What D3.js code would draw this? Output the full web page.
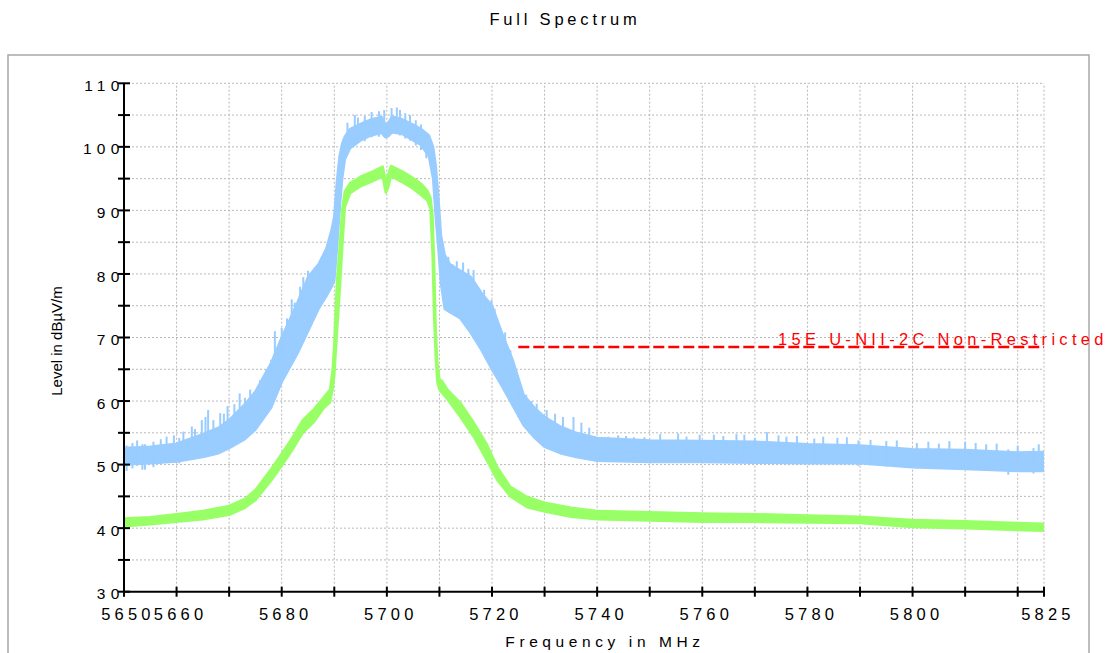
<!DOCTYPE html>
<html><head><meta charset="utf-8">
<script src="https://cdn.jsdelivr.net/npm/d3@7"></script>
<style>body{margin:0;background:#fff;} svg{display:block;font-family:"Liberation Sans",Arial,sans-serif;}</style>
</head><body><svg id="c" width="1113" height="653"></svg>
<script>
// ---------- data ----------
const chartTitle = "Full Spectrum";
const xTitle = "Frequency in MHz";
const yTitle = "Level in dBµV/m";
const limitName = "15E U-NII-2C Non-Restricted";

const xTickValues = [5650,5660,5670,5680,5690,5700,5710,5720,5730,5740,5750,5760,5770,5780,5790,5800,5810,5820,5825];
const xTickLabels = [5650,5660,5680,5700,5720,5740,5760,5780,5800,5825];
const yTickValues = [30,35,40,45,50,55,60,65,70,75,80,85,90,95,100,105,110];
const yTickLabels = [30,40,50,60,70,80,90,100,110];

// Peak trace (blue): dense noise band lower / upper envelope
const blueFreq = [5650,5655,5660,5665,5668,5670,5673,5675,5678,5680,5683,5685,5687,5688.5,5689.5,5690,5690.5,5691,5691.5,5692,5693,5695,5697,5699,5699.7,5700.3,5701,5703,5705,5706.5,5708,5708.8,5709.3,5709.8,5710.3,5711,5712,5714,5716,5718,5720,5722,5724,5726,5728,5730,5733,5736,5740,5750,5760,5770,5780,5790,5800,5810,5820,5825];
const blueLow  = [50.0,50.2,50.5,51.2,51.8,52.6,54.0,55.5,59.0,63.0,67.5,71.0,74.5,76.5,78.0,79.0,84.0,90.0,95.0,98.0,99.8,101.0,101.8,102.2,101.5,101.7,102.3,102.0,101.0,100.3,98.5,95.0,89.0,84.0,78.5,74.5,74.0,73.0,70.7,68.0,65.0,62.2,59.2,56.2,54.3,52.8,51.8,51.2,50.6,50.4,50.4,50.3,50.2,50.2,49.6,49.3,49.0,49.0];
const blueHigh = [52.6,52.8,53.3,54.8,55.8,57.0,59.5,61.5,66.0,70.0,75.5,79.5,81.5,84.0,87.0,89.0,94.5,98.5,100.5,101.6,102.8,103.6,104.3,104.7,103.5,103.8,104.8,104.3,103.5,102.8,101.8,100.0,97.0,92.0,86.0,83.0,81.5,80.5,79.5,77.0,75.0,70.5,66.3,61.0,59.0,57.5,56.0,55.0,54.2,53.8,53.7,53.6,53.2,53.0,52.4,52.3,51.9,52.0];
// Peak trace spikes (tallest excursions above the band)
const spikeFreq  = [5650.5,5651.6,5652.5,5653.5,5654,5655.6,5657,5658.1,5659.5,5660.5,5661.3,5662.9,5663.5,5664.8,5665.5,5666,5667,5668.3,5669,5669.7,5671,5672,5673,5674,5675.9,5676.5,5677.1,5678,5678.7,5679.5,5680,5681,5681.9,5682.5,5683.5,5684.1,5685,5686.3,5687,5688.2,5689.2,5689.8,
  5692.5,5693.9,5694.5,5695.8,5697.1,5698.5,5699.5,5700.9,5701.9,5702.5,5703.5,5704.4,5705.5,5706.5,5707.5,
  5711.7,5712.5,5713.3,5714.5,5715.5,5716.5,5717.7,5718.5,5719.9,5720.5,5721.4,5722.5,5723.5,5725,5726.5,5727.5,5728.5,5730.4,5732,5733.5,5735.5,5737,5738.5,
  5742.1,5744,5745.5,5747,5749,5752,5755.4,5757,5759.5,5762.2,5764,5766.5,5768,5770,5772.3,5774.5,5776,5778,5781.3,5783,5785.7,5787.5,5789.7,5792,5795,5797,5800.8,5803,5805,5807,5810,5812,5814,5816,5818.2,5820,5823,5824];
const spikeLevel = [53.0,53.4,53.8,53.2,53.2,53.6,54.0,54.4,54.6,54.2,55.2,56.0,55.6,57.0,57.5,58.6,57.0,58.1,58.0,59.2,59.5,61.2,60.5,61.8,63.3,63.0,64.9,66.5,71.0,69.0,71.5,73.0,76.0,75.5,78.0,79.5,80.5,81.0,81.5,83.0,85.5,87.0,
  103.8,105.0,104.6,104.9,105.5,105.6,105.8,106.1,106.2,105.8,105.3,105.0,104.2,103.5,102.2,
  82.7,81.5,82.0,81.8,80.8,80.6,77.2,77.5,75.9,74.5,71.4,70.8,68.0,61.5,61.0,60.0,59.6,58.6,58.0,57.5,57.5,56.6,55.8,
  54.4,54.6,54.5,54.3,54.3,54.8,54.9,54.4,54.7,54.7,54.5,54.8,54.7,54.2,55.1,54.6,54.4,54.5,54.1,54.4,54.2,54.3,53.8,53.9,53.7,53.8,53.4,53.6,53.3,53.7,53.6,53.4,53.2,53.3,52.4,53.0,52.6,53.2];

// Average trace (green): band lower / upper envelope
const greenFreq = [5650,5655,5660,5665,5670,5673,5675,5678,5680,5682,5684,5686,5688,5689.2,5689.7,5690,5690.5,5691,5691.5,5692,5693,5695,5697,5699.2,5699.8,5700.2,5700.8,5703,5705,5706.5,5707.7,5708.3,5708.7,5709,5709.3,5709.6,5710,5710.6,5711.6,5714,5716.6,5719,5721,5723.5,5726.7,5730,5735,5740,5750,5760,5770,5780,5790,5800,5810,5820,5825];
const greenLow  = [40.3,40.6,41.0,41.4,42.1,43.2,44.4,47.5,49.8,52.3,55.0,56.6,58.9,59.8,62.0,64.0,70.7,77.0,84.0,90.5,92.7,93.8,94.5,95.3,92.8,93.5,95.4,94.4,93.4,92.4,91.6,90.2,83.0,73.0,67.0,63.0,61.8,61.2,60.2,57.5,54.3,50.7,47.6,45.0,43.3,42.6,41.8,41.4,41.2,41.0,41.0,40.9,40.8,40.2,40.0,39.7,39.6];
const greenHigh = [41.5,41.7,42.2,42.7,43.5,44.6,46.0,49.3,51.7,54.2,57.0,58.6,60.6,61.8,65.0,69.0,78.6,84.0,90.0,93.0,94.3,95.3,96.0,96.9,94.5,95.5,97.0,96.1,95.1,94.2,93.1,92.0,89.0,81.0,71.0,66.0,63.5,63.0,61.7,59.7,56.5,53.2,49.6,46.5,44.9,44.0,43.2,42.7,42.5,42.3,42.2,42.0,41.8,41.3,41.1,40.8,40.7];

// Limit line
const limitFreq  = [5725,5825];
const limitLevel = [68.5,68.5];

// ---------- drawing ----------
const svg = d3.select("#c");
const x = d3.scaleLinear().domain([5650,5825]).range([124,1044]);
const y = d3.scaleLinear().domain([30,110]).range([591.7,83.3]);

// outer frame
svg.append("rect").attr("x",8).attr("y",55).attr("width",1081).attr("height",620)
  .attr("fill","none").attr("stroke","#a8a8a8").attr("stroke-width",1.5);

// title
svg.append("text").attr("x",565).attr("y",25).attr("text-anchor","middle")
  .attr("font-size",16.5).attr("letter-spacing",3.8).attr("fill","#000").text(chartTitle);

// grid
const grid = svg.append("g").attr("stroke","#b8b8b8").attr("stroke-width",1).attr("stroke-dasharray","2,2");
grid.selectAll("line.v").data(xTickValues.slice(1)).join("line")
  .attr("x1",d=>x(d)).attr("x2",d=>x(d)).attr("y1",y(30)).attr("y2",y(110));
grid.selectAll("line.h").data(yTickValues.slice(1)).join("line")
  .attr("y1",d=>y(d)).attr("y2",d=>y(d)).attr("x1",x(5650)).attr("x2",x(5825));

// traces
svg.append("clipPath").attr("id","pc").append("rect")
  .attr("x",x(5650)).attr("y",y(110)).attr("width",x(5825)-x(5650)).attr("height",y(30)-y(110));
const plot = svg.append("g").attr("clip-path","url(#pc)");

const blueData = blueFreq.map((f,i)=>({f,lo:blueLow[i],hi:blueHigh[i]}));
const greenData = greenFreq.map((f,i)=>({f,lo:greenLow[i],hi:greenHigh[i]}));
const band = d3.area().x(d=>x(d.f)).y0(d=>y(d.lo)).y1(d=>y(d.hi));

plot.append("path").datum(blueData).attr("d",band)
  .attr("fill","#99ccff").attr("stroke","#99ccff").attr("stroke-width",2.5).attr("stroke-linejoin","round");
plot.selectAll("line.spk").data(spikeFreq.map((f,i)=>({f,v:spikeLevel[i]}))).join("line")
  .attr("x1",d=>x(d.f)).attr("x2",d=>x(d.f)).attr("y1",d=>y(d.v)).attr("y2",d=>y(d.v-4))
  .attr("stroke","#99ccff").attr("stroke-width",2);

plot.append("path").datum(greenData).attr("d",band)
  .attr("fill","#99ff66").attr("stroke","#99ff66").attr("stroke-width",2.5).attr("stroke-linejoin","round");

// limit line
svg.append("path").datum(limitFreq.map((f,i)=>({f,v:limitLevel[i]})))
  .attr("d",d3.line().x(d=>x(d.f)).y(d=>y(d.v)))
  .attr("stroke","#ff0000").attr("stroke-width",2.5).attr("stroke-dasharray","11,4").attr("fill","none");
svg.append("text").attr("x",778).attr("y",y(limitLevel[0])-2.5).attr("font-size",16.5).attr("letter-spacing",4.3)
  .attr("fill","#ff0000").text(limitName);

// axes
const ax = svg.append("g");
ax.append("line").attr("x1",x(5650)).attr("x2",x(5825)).attr("y1",y(30)).attr("y2",y(30)).attr("stroke","#000").attr("stroke-width",2);
ax.append("line").attr("x1",x(5650)).attr("x2",x(5650)).attr("y1",y(30)).attr("y2",y(110)).attr("stroke","#000").attr("stroke-width",2);
ax.selectAll("line.xt").data(xTickValues).join("line")
  .attr("x1",d=>x(d)).attr("x2",d=>x(d)).attr("y1",y(30)-5).attr("y2",y(30)+5).attr("stroke","#000").attr("stroke-width",2);
ax.selectAll("line.yt").data(yTickValues).join("line")
  .attr("y1",d=>y(d)).attr("y2",d=>y(d)).attr("x1",x(5650)-6).attr("x2",x(5650)+6).attr("stroke","#000").attr("stroke-width",2);
ax.selectAll("text.xl").data(xTickLabels).join("text")
  .attr("x",d=>x(d)+4).attr("y",620).attr("text-anchor","middle").attr("font-size",16.5).attr("letter-spacing",4.2)
  .attr("fill","#000").text(d=>d);
ax.selectAll("text.yl").data(yTickLabels).join("text")
  .attr("x",x(5650)+0.5).attr("y",d=>y(d)+7.6).attr("text-anchor","end").attr("font-size",15.5).attr("letter-spacing",5.2)
  .attr("fill","#000").text(d=>d);

// axis titles
svg.append("text").attr("x",605).attr("y",647).attr("text-anchor","middle").attr("font-size",15.5).attr("letter-spacing",4.6)
  .attr("fill","#000").text(xTitle);
svg.append("text").attr("transform","translate(62,341) rotate(-90)").attr("text-anchor","middle").attr("font-size",15)
  .attr("fill","#000").text(yTitle);
</script></body></html>
